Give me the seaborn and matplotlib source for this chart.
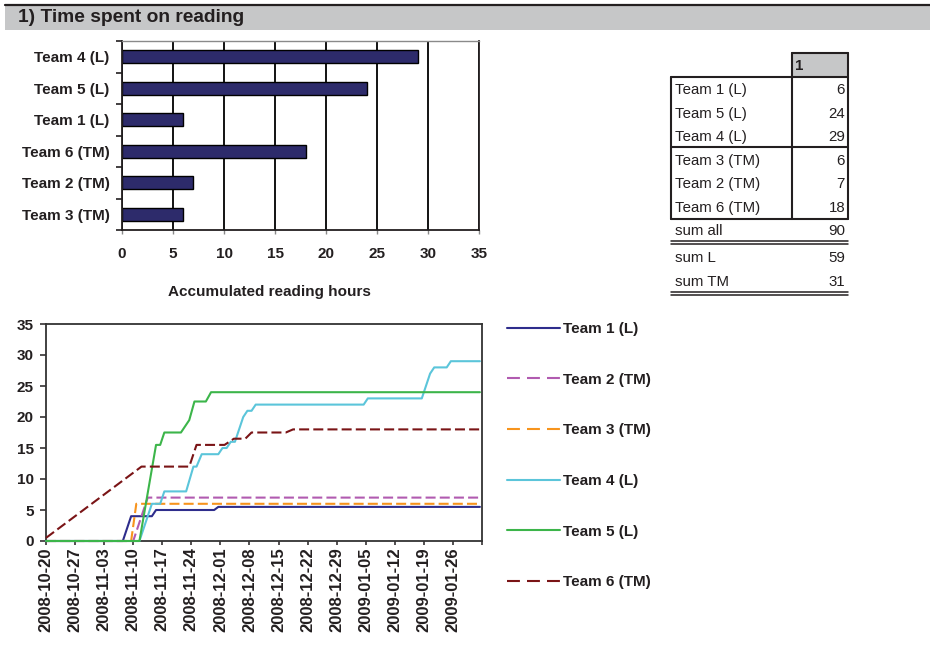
import numpy as np
import pandas as pd
import matplotlib
matplotlib.use('Agg')
import matplotlib.pyplot as plt
import seaborn as sns
from matplotlib.lines import Line2D
from matplotlib.patches import Rectangle

# ---------------- DATA ----------------
title = "1) Time spent on reading"

bar_teams = ["Team 4 (L)", "Team 5 (L)", "Team 1 (L)", "Team 6 (TM)", "Team 2 (TM)", "Team 3 (TM)"]
bar_hours = [29, 24, 6, 18, 7, 6]
bar_xticks = [0, 5, 10, 15, 20, 25, 30, 35]
bar_xlabel = "Accumulated reading hours"

table_header = "1"
table_rows = ["Team 1 (L)", "Team 5 (L)", "Team 4 (L)", "Team 3 (TM)", "Team 2 (TM)", "Team 6 (TM)"]
table_vals = [6, 24, 29, 6, 7, 18]
sum_labels = ["sum all", "sum L", "sum TM"]
sum_vals = [90, 59, 31]

line_teams = ["Team 1 (L)", "Team 2 (TM)", "Team 3 (TM)", "Team 4 (L)", "Team 5 (L)", "Team 6 (TM)"]

t1_dates = ["2008-10-20", "2008-11-07 12:00", "2008-11-09 12:00", "2008-11-14 12:00",
            "2008-11-15 12:00", "2008-11-29 12:00", "2008-11-30 12:00", "2009-02-01 12:00"]
t1_hours = [0, 0, 4, 4, 5, 5, 5.5, 5.5]

t2_dates = ["2008-10-20", "2008-11-10", "2008-11-13 12:00", "2009-02-01 12:00"]
t2_hours = [0, 0, 7, 7]

t3_dates = ["2008-10-20", "2008-11-09 12:00", "2008-11-10 18:00", "2009-02-01 12:00"]
t3_hours = [0, 0, 6, 6]

t4_dates = ["2008-10-20", "2008-11-11 12:00", "2008-11-14 12:00", "2008-11-16 12:00",
            "2008-11-17 12:00", "2008-11-22 18:00", "2008-11-24 12:00", "2008-11-25 06:00",
            "2008-11-26 12:00", "2008-11-30 12:00", "2008-12-01 12:00", "2008-12-02 12:00",
            "2008-12-03 12:00", "2008-12-04 12:00", "2008-12-06 12:00", "2008-12-07 12:00",
            "2008-12-08 12:00", "2008-12-09 12:00", "2009-01-04 12:00", "2009-01-05 12:00",
            "2009-01-18 12:00", "2009-01-20 12:00", "2009-01-21 12:00", "2009-01-24 12:00",
            "2009-01-25 12:00", "2009-02-01 12:00"]
t4_hours = [0, 0, 6, 6, 8, 8, 12, 12, 14, 14, 15, 15, 16, 16, 20, 21, 21, 22, 22, 23,
            23, 27, 28, 28, 29, 29]

t5_dates = ["2008-10-20", "2008-11-11 12:00", "2008-11-15 12:00", "2008-11-16 12:00",
            "2008-11-17 12:00", "2008-11-21 12:00", "2008-11-23 12:00", "2008-11-24 18:00",
            "2008-11-27 12:00", "2008-11-28 18:00", "2009-02-01 12:00"]
t5_hours = [0, 0, 15.5, 15.5, 17.5, 17.5, 19.5, 22.5, 22.5, 24, 24]

t6_dates = ["2008-10-20", "2008-11-12", "2008-11-23 12:00", "2008-11-25 06:00",
            "2008-12-02", "2008-12-04 06:00", "2008-12-07", "2008-12-08 12:00",
            "2008-12-16 18:00", "2008-12-18 12:00", "2009-02-01 12:00"]
t6_hours = [0.5, 12, 12, 15.5, 15.5, 16.5, 16.5, 17.5, 17.5, 18, 18]

date_ticks = ["2008-10-20", "2008-10-27", "2008-11-03", "2008-11-10", "2008-11-17",
              "2008-11-24", "2008-12-01", "2008-12-08", "2008-12-15", "2008-12-22",
              "2008-12-29", "2009-01-05", "2009-01-12", "2009-01-19", "2009-01-26",
              "2009-02-02"]
date_tick_labels = ["2008-10-20", "2008-10-27", "2008-11-03", "2008-11-10", "2008-11-17",
                    "2008-11-24", "2008-12-01", "2008-12-08", "2008-12-15", "2008-12-22",
                    "2008-12-29", "2009-01-05", "2009-01-12", "2009-01-19", "2009-01-26",
                    ""]
line_yticks = [0, 5, 10, 15, 20, 25, 30, 35]

# ---------------- STYLE ----------------
W, H = 930, 649
TXT = '#231F20'
BAR = '#2D2B6B'
colors = {"Team 1 (L)": '#2E2D8C', "Team 2 (TM)": '#B15BB0', "Team 3 (TM)": '#F7941D',
          "Team 4 (L)": '#5BC5DA', "Team 5 (L)": '#3CB54A', "Team 6 (TM)": '#7A1416'}
DASH = (4.8, 2.0)
LEG_DASH = (6.2, 3.4)
dashes = {"Team 1 (L)": "", "Team 2 (TM)": DASH, "Team 3 (TM)": DASH,
          "Team 4 (L)": "", "Team 5 (L)": "", "Team 6 (TM)": DASH}

sns.set_theme(style='white')
plt.rcParams['font.family'] = ['Liberation Sans', 'DejaVu Sans']
plt.rcParams['font.weight'] = 'bold'
plt.rcParams['text.color'] = TXT
plt.rcParams['xtick.color'] = TXT
plt.rcParams['ytick.color'] = TXT
plt.rcParams['axes.labelcolor'] = TXT

fig = plt.figure(figsize=(W / 100, H / 100), dpi=100)


def fx(x):
    return x / W


def fy(y):
    return 1 - y / H


# ---------------- HEADER ----------------
fig.patches.append(Rectangle((fx(5), fy(30)), fx(925), 25 / H, transform=fig.transFigure,
                             facecolor='#C6C7C8', edgecolor='none', zorder=0))
fig.lines.append(Line2D([fx(5), fx(930)], [fy(5), fy(5)], transform=fig.transFigure,
                        color=TXT, lw=1.6))
fig.text(fx(18), fy(18), title, fontsize=13.8, weight='bold', va='center', ha='left')

# ---------------- BAR CHART ----------------
ax1 = fig.add_axes([fx(122), fy(230), 357 / W, 189 / H])
sns.barplot(x=bar_hours, y=bar_teams, orient='h', color=BAR, saturation=1,
            edgecolor='black', linewidth=1.0, width=0.4, ax=ax1)
ax1.set_xlim(0, 35)
ax1.set_ylim(5.5, -0.5)
ax1.set_xticks(bar_xticks)
ax1.set_axisbelow(True)
ax1.xaxis.grid(True, color='black', lw=1.3)
ax1.set_yticks(np.arange(-0.5, len(bar_teams), 1.0), minor=True)
ax1.tick_params(axis='y', which='major', length=0, pad=9, labelsize=11)
ax1.tick_params(axis='y', which='minor', length=4, width=1.2, color=TXT, direction='out', left=True)
ax1.tick_params(axis='x', which='major', length=3, width=1, color='#888888', pad=9,
                labelsize=11, bottom=True)
for side in ['left', 'bottom', 'right']:
    ax1.spines[side].set_color(TXT)
    ax1.spines[side].set_linewidth(1.3)
ax1.spines['top'].set_color('#8A8A8A')
ax1.spines['top'].set_linewidth(1.0)
ax1.set_xlabel('')
ax1.set_ylabel('')
fig.text(fx(269), fy(292), bar_xlabel, fontsize=11, weight='bold', ha='center', va='center')

# ---------------- TABLE ----------------
TL, TD, TR = 671, 792, 848
fig.patches.append(Rectangle((fx(TD), fy(77)), (TR - TD) / W, 24 / H, transform=fig.transFigure,
                             facecolor='#C6C7C8', edgecolor='none', zorder=0))


def hline(y, x0=TL, x1=TR, lw=1.5):
    fig.lines.append(Line2D([fx(x0), fx(x1)], [fy(y), fy(y)], transform=fig.transFigure,
                            color=TXT, lw=lw))


def vline(x, y0, y1, lw=1.5):
    fig.lines.append(Line2D([fx(x), fx(x)], [fy(y0), fy(y1)], transform=fig.transFigure,
                            color=TXT, lw=lw))


hline(53, TD, TR)
hline(77)
hline(147)
hline(219)
vline(TL, 77, 219)
vline(TD, 53, 219)
vline(TR, 53, 219)
hline(241, lw=1.1)
hline(244, lw=1.1)
hline(292, lw=1.1)
hline(295, lw=1.1)

TFS = 10.8
fig.text(fx(795), fy(66), table_header, fontsize=TFS, weight='bold', ha='left', va='center')
row_y = [90, 114, 137, 161, 184, 208]
for lab, v, y in zip(table_rows, table_vals, row_y):
    fig.text(fx(675), fy(y), lab, fontsize=TFS, weight='normal', ha='left', va='center')
    fig.text(fx(845), fy(y), str(v), fontsize=TFS, weight='normal', ha='right', va='center')
sum_y = [231, 258, 282]
for lab, v, y in zip(sum_labels, sum_vals, sum_y):
    fig.text(fx(675), fy(y), lab, fontsize=TFS, weight='normal', ha='left', va='center')
    fig.text(fx(845), fy(y), str(v), fontsize=TFS, weight='normal', ha='right', va='center')

# ---------------- LINE CHART ----------------
series = [(t1_dates, t1_hours), (t2_dates, t2_hours), (t3_dates, t3_hours),
          (t4_dates, t4_hours), (t5_dates, t5_hours), (t6_dates, t6_hours)]
frames = []
for team, (d, h) in zip(line_teams, series):
    frames.append(pd.DataFrame({'date': pd.to_datetime(d, format='mixed'), 'hours': h, 'team': team}))
df = pd.concat(frames, ignore_index=True)

ax2 = fig.add_axes([fx(46), fy(541), 436 / W, 217 / H])
sns.lineplot(data=df, x='date', y='hours', hue='team', style='team', hue_order=line_teams,
             style_order=line_teams, palette=colors, dashes=dashes, linewidth=1.5,
             estimator=None, legend=False, ax=ax2)
for ln in ax2.lines:
    ln.set_clip_on(False)
    ln.set_zorder(3)
ax2.set_xlim(pd.Timestamp(date_ticks[0]), pd.Timestamp(date_ticks[-1]))
ax2.set_ylim(0, 35)
ax2.set_yticks(line_yticks)
ax2.set_xticks(pd.to_datetime(date_ticks))
ax2.set_xticklabels(date_tick_labels, rotation=90)
ax2.tick_params(axis='x', length=3, width=1.1, color=TXT, pad=1.5, labelsize=12, bottom=True)
ax2.tick_params(axis='y', length=4, width=1.1, color=TXT, pad=5, labelsize=11, left=True)
for side in ax2.spines:
    ax2.spines[side].set_color('#333333')
    ax2.spines[side].set_linewidth(1.3)
ax2.set_xlabel('')
ax2.set_ylabel('')

handles = []
for t in line_teams:
    hd = Line2D([0], [0], color=colors[t], lw=1.5)
    if dashes[t]:
        hd.set_dashes(LEG_DASH)
    handles.append(hd)
leg = fig.legend(handles, line_teams, loc='upper left', bbox_to_anchor=(fx(507), fy(322)),
                 frameon=False, handlelength=3.46, handletextpad=0.2, labelspacing=2.40,
                 fontsize=11, borderaxespad=0, borderpad=0)

fig.savefig('out.png', dpi=100)
